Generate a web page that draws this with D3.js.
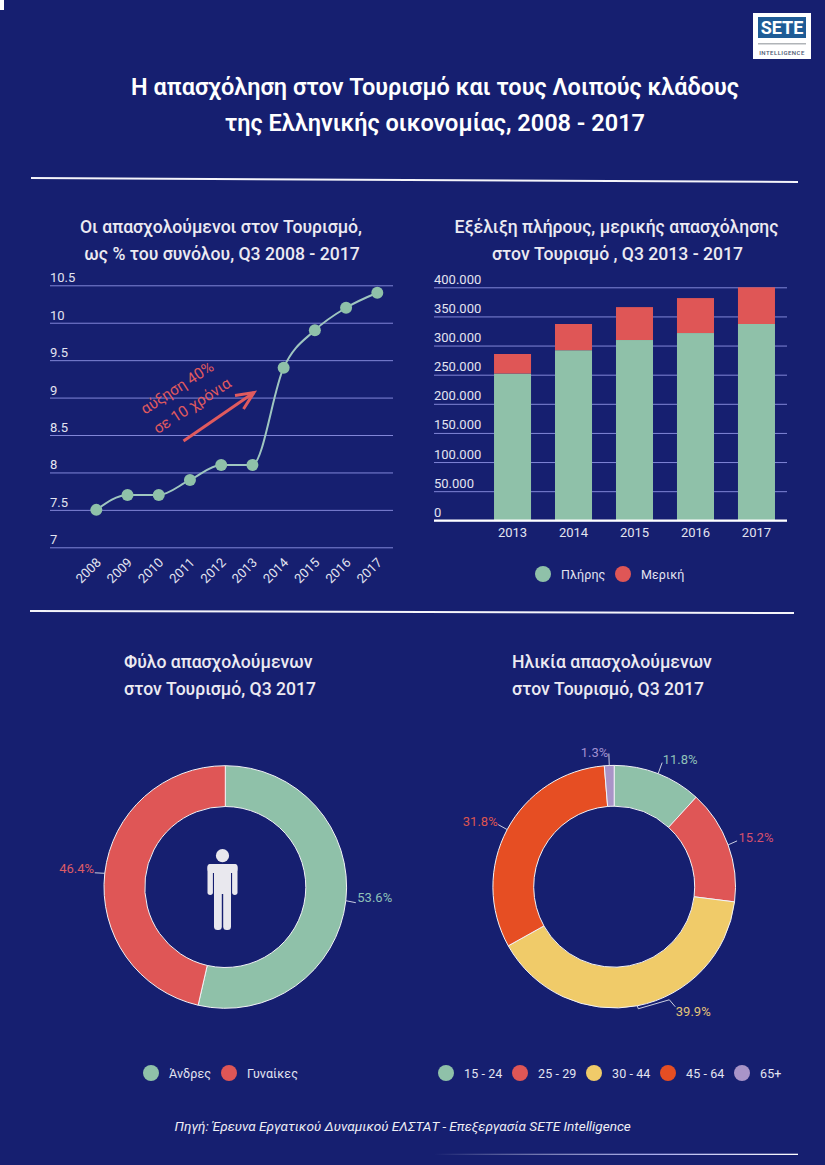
<!DOCTYPE html>
<html lang="el">
<head>
<meta charset="utf-8">
<title>Απασχόληση στον Τουρισμό</title>
<script src="https://cdn.jsdelivr.net/npm/d3@7"></script>
<style>
  html, body { margin: 0; padding: 0; background: #161f70; }
  svg { display: block; font-family: Roboto, "Noto Sans", sans-serif; }
  .heading { font-size: 17.6px; font-weight: 500; fill: #eceaf2; }
  .legend-label { font-size: 12.5px; fill: #e3e4f0; letter-spacing: 0.1px; }
  .value-label { font-size: 13px; }
</style>
</head>
<body>
<svg id="page" width="825" height="1165"></svg>
<script>
// Share of tourism in total employment
const shareYears = ["2008","2009","2010","2011","2012","2013","2014","2015","2016","2017"];
const shareValues = [7.5, 7.7, 7.7, 7.9, 8.1, 8.1, 9.4, 9.9, 10.2, 10.4];
const shareTicks = [7, 7.5, 8, 8.5, 9, 9.5, 10, 10.5];

// Full-time and part-time employment in tourism
const workYears = ["2013","2014","2015","2016","2017"];
const fullTime = [252000, 292000, 309500, 321500, 337000];
const partTime = [33500, 45000, 56500, 60000, 63000];
const workTicks = [0, 50000, 100000, 150000, 200000, 250000, 300000, 350000, 400000];
const workSeries = ["Πλήρης", "Μερική"];

// Gender and age of people employed in tourism
const genderNames = ["Άνδρες", "Γυναίκες"];
const genderShares = [53.6, 46.4];
const ageNames = ["15 - 24", "25 - 29", "30 - 44", "45 - 64", "65+"];
const ageShares = [11.8, 15.2, 39.9, 31.8, 1.3];

const palette = { green: "#8fc1a9", red: "#df5656", yellow: "#f0cb69", orange: "#e64e23", purple: "#a994c8" };
const gridColor = "#8186d8";

const svg = d3.select("#page");

// Backdrop and header furniture
svg.append("rect").attr("width", 825).attr("height", 1165).attr("fill", "#161f70");
svg.append("rect").attr("width", 4).attr("height", 10).attr("fill", "#fff");

const fade = svg.append("defs").append("linearGradient").attr("id", "fade");
fade.append("stop").attr("offset", 0).attr("stop-color", "#fff").attr("stop-opacity", 0);
fade.append("stop").attr("offset", 0.6).attr("stop-color", "#a9acec");
fade.append("stop").attr("offset", 1).attr("stop-color", "#fff");

const logo = svg.append("g");
logo.append("rect").attr("x", 753).attr("y", 13).attr("width", 58).attr("height", 46).attr("fill", "#fff");
logo.append("rect").attr("x", 758).attr("y", 17).attr("width", 48).attr("height", 21).attr("fill", "#1f5c96");
logo.append("text").attr("x", 782).attr("y", 34).attr("text-anchor", "middle")
  .attr("font-size", 18).attr("font-weight", 700).attr("fill", "#fff").text("SETE");
logo.append("rect").attr("x", 758).attr("y", 43).attr("width", 48).attr("height", 1.5).attr("fill", "#b0b4b8");
logo.append("text").attr("x", 782).attr("y", 54.5).attr("text-anchor", "middle")
  .attr("font-size", 6).attr("font-weight", 500).attr("letter-spacing", 0.45).attr("fill", "#4a5670").text("INTELLIGENCE");

[["Η απασχόληση στον Τουρισμό και τους Λοιπούς κλάδους", 95],
 ["της Ελληνικής οικονομίας, 2008 - 2017", 131]].forEach(([line, y]) => {
  svg.append("text").attr("x", 435).attr("y", y).attr("text-anchor", "middle")
    .attr("font-size", 23.5).attr("font-weight", 600).attr("fill", "#fff").text(line);
});

[[31, 178, 798, 182], [30, 611, 794, 613]].forEach(([x1, y1, x2, y2]) => {
  svg.append("line").attr("x1", x1).attr("y1", y1).attr("x2", x2).attr("y2", y2)
    .attr("stroke", "#f4f4fa").attr("stroke-width", 2);
});

[["Οι απασχολούμενοι στον Τουρισμό,", 221, 233, "middle"],
 ["ως % του συνόλου, Q3 2008 - 2017", 222, 260, "middle"],
 ["Εξέλιξη πλήρους, μερικής απασχόλησης", 616.5, 233, "middle"],
 ["στον Τουρισμό , Q3 2013 - 2017", 617.5, 260, "middle"],
 ["Φύλο απασχολούμενων", 124, 668, "start"],
 ["στον Τουρισμό, Q3 2017", 124, 695, "start"],
 ["Ηλικία απασχολούμενων", 512, 668, "start"],
 ["στον Τουρισμό, Q3 2017", 512, 695, "start"]].forEach(([line, x, y, anchor]) => {
  svg.append("text").attr("class", "heading").attr("x", x).attr("y", y)
    .attr("text-anchor", anchor).text(line);
});

// Line chart
const shareX = d3.scalePoint().domain(shareYears).range([96.3, 377.3]);
const shareY = d3.scaleLinear().domain([7, 10.5]).range([547.3, 285.3]);

const shareGrid = svg.append("g").attr("transform", "translate(50,0)")
  .call(d3.axisRight(shareY).tickValues(shareTicks).tickSize(343).tickFormat(d3.format("~g")));
shareGrid.select(".domain").remove();
shareGrid.selectAll(".tick line").attr("stroke", gridColor);
shareGrid.selectAll(".tick text")
  .attr("x", 0).attr("dy", -3.5).attr("y", 0)
  .style("font-family", "Roboto").style("font-size", "13px").attr("fill", "#e3e4f0");

const shareAxis = svg.append("g").attr("transform", "translate(0,547.3)")
  .call(d3.axisBottom(shareX).tickSize(0));
shareAxis.select(".domain").remove();
shareAxis.selectAll(".tick text")
  .attr("fill", "#e3e4f0").style("font-family", "Roboto").style("font-size", "13px")
  .attr("text-anchor", "end").attr("dy", 0).attr("y", 0)
  .attr("transform", "translate(5,16) rotate(-45)");

const shareLine = d3.line().x((d, i) => shareX(shareYears[i])).y(d => shareY(d)).curve(d3.curveMonotoneX);
svg.append("path").attr("d", shareLine(shareValues)).attr("fill", "none")
  .attr("stroke", "#9fc6c0").attr("stroke-width", 2);
svg.append("g").selectAll("circle").data(shareValues).join("circle")
  .attr("cx", (d, i) => shareX(shareYears[i])).attr("cy", d => shareY(d)).attr("r", 6)
  .attr("fill", palette.green);

// Growth annotation
const note = svg.append("g").attr("fill", "#e05a5e").attr("font-size", 15.4).attr("text-anchor", "middle");
note.append("text").attr("transform", "translate(180,392) rotate(-33)").text("αύξηση 40%");
note.append("text").attr("transform", "translate(195,410) rotate(-33)").text("σε 10 χρόνια");
svg.append("path").attr("d", d3.line()([[183.5, 441], [254, 392.5]])).attr("stroke", "#e05a5e")
  .attr("stroke-width", 3).attr("fill", "none");
svg.append("path").attr("d", d3.line()([[235, 395.5], [254, 392.5], [243.5, 409]])).attr("stroke", "#e05a5e")
  .attr("stroke-width", 3).attr("fill", "none");

// Stacked bars
const workX = d3.scaleBand().domain(workYears).range([482, 787]).paddingInner(0.393).paddingOuter(0.197);
const workY = d3.scaleLinear().domain([0, 400000]).range([520.3, 287.3]);
const dotted = d3.formatLocale({ decimal: ",", thousands: ".", grouping: [3], currency: ["", "€"] }).format(",");

const workGrid = svg.append("g").attr("transform", "translate(434,0)")
  .call(d3.axisRight(workY).tickValues(workTicks).tickSize(353).tickFormat(dotted));
workGrid.select(".domain").remove();
workGrid.selectAll(".tick line").attr("stroke", gridColor);
workGrid.selectAll(".tick text").attr("x", 0).attr("y", 0).attr("dy", -4)
  .attr("fill", "#e3e4f0").style("font-family", "Roboto").style("font-size", "13px");

const stackRows = workYears.map((year, i) => ({ year, [workSeries[0]]: fullTime[i], [workSeries[1]]: partTime[i] }));
const stacked = d3.stack().keys(workSeries)(stackRows);
const workColor = d3.scaleOrdinal().domain(workSeries).range([palette.green, palette.red]);
svg.append("g").selectAll("g").data(stacked).join("g").attr("fill", d => workColor(d.key))
  .selectAll("rect").data(d => d).join("rect")
  .attr("x", d => workX(d.data.year)).attr("width", workX.bandwidth())
  .attr("y", d => workY(d[1])).attr("height", d => workY(d[0]) - workY(d[1]));

const workAxis = svg.append("g").attr("transform", "translate(0,520.3)")
  .call(d3.axisBottom(workX).tickSize(0).tickPadding(7));
workAxis.select(".domain").remove();
workAxis.selectAll(".tick text").attr("fill", "#e3e4f0").style("font-family", "Roboto").style("font-size", "13px");
svg.append("line").attr("x1", 434).attr("x2", 787).attr("y1", 520.6).attr("y2", 520.6)
  .attr("stroke", "#fff").attr("stroke-width", 2.2);

// Legends
function legend(names, colors, circleXs, textXs, y) {
  const g = svg.append("g");
  g.selectAll("circle").data(names).join("circle")
    .attr("cx", (d, i) => circleXs[i]).attr("cy", y).attr("r", 8).attr("fill", (d, i) => colors[i]);
  g.selectAll("text").data(names).join("text").attr("class", "legend-label")
    .attr("x", (d, i) => textXs[i]).attr("y", y + 4.5).text(d => d);
}
legend(workSeries, [palette.green, palette.red], [543, 623], [561, 641], 574);
legend(genderNames, [palette.green, palette.red], [151, 229], [169, 247], 1073);
legend(ageNames, [palette.green, palette.red, palette.yellow, palette.orange, palette.purple],
  [446, 520, 594, 668, 742], [464, 538, 612, 686, 760], 1073);

// Doughnuts with leader lines running from each slice's outer edge
function doughnut(cx, cy, shares, colors, labelColors, leaders) {
  const outer = 121.3, inner = 80.5;
  const arcs = d3.pie().sort(null)(shares);
  const ring = d3.arc().innerRadius(inner).outerRadius(outer);
  const g = svg.append("g").attr("transform", `translate(${cx},${cy})`);
  g.selectAll("path.slice").data(arcs).join("path").attr("class", "slice")
    .attr("d", ring).attr("fill", (d, i) => colors[i]).attr("stroke", "#f2f2f6").attr("stroke-width", 1);
  arcs.forEach((a, i) => {
    const mid = (a.startAngle + a.endAngle) / 2;
    const edge = [outer * Math.sin(mid), -outer * Math.cos(mid)];
    const { bends, dx, dy, anchor } = leaders[i];
    const points = [edge, ...bends.map(([bx, by]) => [edge[0] + bx, edge[1] + by])];
    g.append("path").attr("d", d3.line()(points)).attr("fill", "none")
      .attr("stroke", "#dfe2ee").attr("stroke-width", 0.9);
    g.append("text").attr("class", "value-label").attr("fill", labelColors[i])
      .attr("text-anchor", anchor).attr("x", edge[0] + dx).attr("y", edge[1] + dy)
      .text(`${shares[i].toFixed(1)}%`);
  });
  return g;
}

const genderRing = doughnut(225.3, 887, genderShares, [palette.green, palette.red], ["#8fc1b9", "#dc5c66"], [
  { bends: [[10, 2]], dx: 11.5, dy: 1, anchor: "start" },
  { bends: [[-10, -0.5]], dx: -10.7, dy: -0.6, anchor: "end" }
]);

doughnut(614.2, 886.7, ageShares,
  [palette.green, palette.red, palette.yellow, palette.orange, palette.purple],
  ["#8fc1b9", "#d5506e", "#e3c478", "#dc5550", "#a08fd0"], [
  { bends: [[4, -11]], dx: 4.5, dy: -9.5, anchor: "start" },
  { bends: [[9, -4]], dx: 10.5, dy: -3, anchor: "start" },
  { bends: [[1, 3], [32, -6], [38, 1]], dx: 38.5, dy: 10, anchor: "start" },
  { bends: [[-9, -5]], dx: -9.5, dy: -4, anchor: "end" },
  { bends: [[-0.4, -12]], dx: -1, dy: -9, anchor: "end" }
]);

// Standing figure inside the gender ring
const figure = genderRing.append("g").attr("fill", "#e9e8ee").attr("transform", "translate(-2.8,0)");
figure.append("circle").attr("cy", -31.3).attr("r", 6.6);
figure.append("rect").attr("x", -15).attr("y", -23).attr("width", 30).attr("height", 9).attr("rx", 4);
figure.append("rect").attr("x", -15).attr("y", -23).attr("width", 5.4).attr("height", 31).attr("rx", 2.7);
figure.append("rect").attr("x", 9.6).attr("y", -23).attr("width", 5.4).attr("height", 31).attr("rx", 2.7);
figure.append("rect").attr("x", -8.5).attr("y", -23).attr("width", 17).attr("height", 30);
figure.append("rect").attr("x", -8.5).attr("y", 0).attr("width", 7.8).attr("height", 43).attr("rx", 3.5);
figure.append("rect").attr("x", 0.7).attr("y", 0).attr("width", 7.8).attr("height", 43).attr("rx", 3.5);

// Source line and closing rule
svg.append("text").attr("x", 174.5).attr("y", 1131).attr("font-size", 13.6).attr("font-style", "italic")
  .attr("font-weight", 400).attr("fill", "#eeeef5")
  .text("Πηγή: Έρευνα Εργατικού Δυναμικού ΕΛΣΤΑΤ - Επεξεργασία SETE Intelligence");
svg.append("rect").attr("x", 434).attr("y", 1153.7).attr("width", 364).attr("height", 1.3).attr("fill", "url(#fade)");
</script>
</body>
</html>
